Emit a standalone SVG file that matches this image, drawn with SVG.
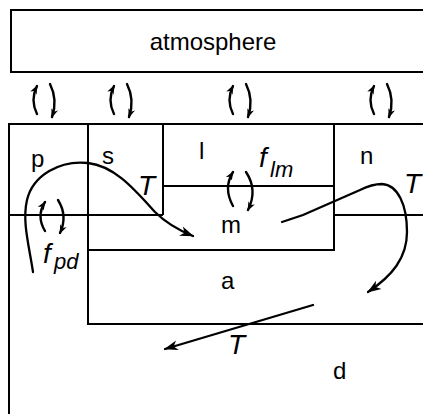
<svg xmlns="http://www.w3.org/2000/svg" width="423" height="414" viewBox="0 0 423 414">
<style>
.box{fill:none;stroke:#000;stroke-width:2}
.lbl{font-family:"Liberation Sans",Arial,sans-serif;font-size:24px;fill:#000}
.it{font-family:"Liberation Sans",Arial,sans-serif;font-style:italic;fill:#000}
.c{fill:none;stroke:#000;stroke-width:2.3;stroke-linecap:round}
.x{fill:none;stroke:#000;stroke-width:2.4;stroke-linecap:round}
</style>
<defs>
<marker id="ah" markerUnits="userSpaceOnUse" markerWidth="16" markerHeight="12" refX="13" refY="5" orient="auto" viewBox="0 0 16 10">
<path d="M0,0 L14,5 L0,10 L4,5 Z" fill="#000"/>
</marker>
<marker id="sh" markerUnits="userSpaceOnUse" markerWidth="10" markerHeight="8" refX="8" refY="3.5" orient="auto" viewBox="0 0 10 7">
<path d="M0,0 L9,3.5 L0,7 L2.5,3.5 Z" fill="#000"/>
</marker>
</defs>
<rect width="423" height="414" fill="#fff"/>
<g id="atmosphere">
<rect class="box" x="11" y="10" width="420" height="62"/>
<text class="lbl" x="213" y="50" text-anchor="middle" style="font-size:24px">atmosphere</text>
</g>
<g id="compartments">
<path class="box" d="M9 416 V124 H425"/>
</g>
<g id="p">
<path class="box" d="M163 215 H9"/>
<text class="lbl" x="31" y="167">p</text>
</g>
<g id="s">
<path class="box" d="M88 124 V215 M163 124 V215"/>
<text class="lbl" x="102" y="164">s</text>
</g>
<g id="l">
<path class="box" d="M163 186 H334"/>
<text class="lbl" x="199" y="159">l</text>
</g>
<g id="m">
<path class="box" d="M334 124 V250 H88 V215"/>
<text class="lbl" x="221" y="233">m</text>
</g>
<g id="n">
<path class="box" d="M334 215 H425"/>
<text class="lbl" x="360" y="164">n</text>
</g>
<g id="a">
<path class="box" d="M88 250 V324 H425"/>
<text class="lbl" x="221" y="289">a</text>
</g>
<g id="d">
<text class="lbl" x="333" y="379">d</text>
</g>
<g id="connectors">
<path class="x" marker-end="url(#sh)" d="M37 114 Q30 100 37 86"/>
<path class="x" marker-end="url(#sh)" d="M50 84 Q58 100 52 117"/>
<path class="x" marker-end="url(#sh)" d="M114 114 Q107 100 114 86"/>
<path class="x" marker-end="url(#sh)" d="M127 84 Q135 100 129 117"/>
<path class="x" marker-end="url(#sh)" d="M233 114 Q226 100 233 86"/>
<path class="x" marker-end="url(#sh)" d="M246 84 Q254 100 248 117"/>
<path class="x" marker-end="url(#sh)" d="M374 114 Q367 100 374 86"/>
<path class="x" marker-end="url(#sh)" d="M387 84 Q395 100 389 117"/>
<path class="x" marker-end="url(#sh)" d="M233 206 Q223 188 233 172"/>
<path class="x" marker-end="url(#sh)" d="M246 172 Q258 190 248 210"/>
<path class="x" marker-end="url(#sh)" d="M45 231 Q36 216 45 202"/>
<path class="x" marker-end="url(#sh)" d="M58 200 Q68 216 60 233"/>
<path class="c" marker-end="url(#ah)" d="M33 272 C29 245 22 222 27 200 C33 175 60 160 88 163 C115 166 135 190 155 212 C165 222 178 230 193 236"/>
<path class="c" marker-end="url(#ah)" d="M282 222 L303 215 L360 190 C368 186 374 184 382 184 C398 185 407 205 407 232 C407 258 392 276 368 292"/>
<path class="c" marker-end="url(#ah)" d="M313 305 L165 349"/>
<text class="it" x="138" y="195" style="font-size:28px">T</text>
<text class="it" x="404" y="193" style="font-size:28px">T</text>
<text class="it" x="228" y="354" style="font-size:28px">T</text>
<text class="it" x="259" y="167" style="font-size:28px">f<tspan x="270" y="177" style="font-size:22px">lm</tspan></text>
<text class="it" x="43" y="263" style="font-size:28px">f<tspan x="54" y="269" style="font-size:22px">pd</tspan></text>
</g>
</svg>
